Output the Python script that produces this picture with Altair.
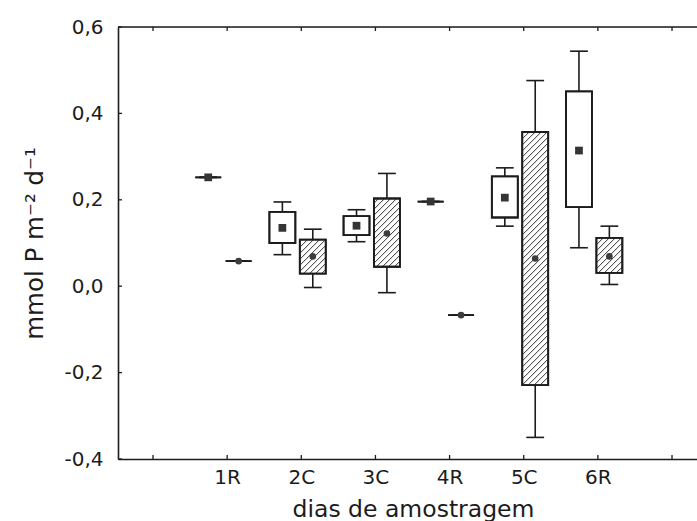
import math
import altair as alt
import pandas as pd

# ---------------- data ----------------
categories = ["1R", "2C", "3C", "4R", "5C", "6R"]
positions = [1, 2, 3, 4, 5, 6]

# open boxes (square marker)
open_mid = [0.252, 0.135, 0.140, 0.196, 0.205, 0.314]
open_q1 = [0.252, 0.100, 0.118, 0.196, 0.159, 0.183]
open_q3 = [0.252, 0.172, 0.162, 0.196, 0.254, 0.451]
open_lo = [0.252, 0.073, 0.103, 0.196, 0.139, 0.089]
open_hi = [0.252, 0.195, 0.177, 0.196, 0.274, 0.544]

# hatched boxes (circle marker)
hatch_mid = [0.058, 0.069, 0.122, -0.067, 0.064, 0.069]
hatch_q1 = [0.058, 0.029, 0.045, -0.067, -0.229, 0.031]
hatch_q3 = [0.058, 0.108, 0.203, -0.067, 0.357, 0.112]
hatch_lo = [0.058, -0.003, -0.015, -0.067, -0.350, 0.004]
hatch_hi = [0.058, 0.132, 0.261, -0.067, 0.476, 0.139]

x_tick_positions = [0, 1, 2, 3, 4, 5, 6, 7]
y_tick_values = [-0.4, -0.2, 0.0, 0.2, 0.4, 0.6]

# ---------------- layout ----------------
W, H = 579, 432
XMIN, XMAX = -0.472, 7.337
YMIN, YMAX = -0.4, 0.6
OFF_OPEN, OFF_HATCH = -0.255, 0.155
HALF_BOX, HALF_CAP = 0.175, 0.12
INK = "#1c1c1c"
FONT = "DejaVu Sans"

rows = []
for i, p in enumerate(positions):
    rows.append(dict(cat=categories[i], series="open", c=p + OFF_OPEN,
                     mid=open_mid[i], q1=open_q1[i], q3=open_q3[i],
                     lo=open_lo[i], hi=open_hi[i]))
    rows.append(dict(cat=categories[i], series="hatch", c=p + OFF_HATCH,
                     mid=hatch_mid[i], q1=hatch_q1[i], q3=hatch_q3[i],
                     lo=hatch_lo[i], hi=hatch_hi[i]))
df = pd.DataFrame(rows)
df["xl"] = df.c - HALF_BOX
df["xr"] = df.c + HALF_BOX
df["cl"] = df.c - HALF_CAP
df["cr"] = df.c + HALF_CAP

# hatch segments (45 degree stripes) clipped to each hatched box
kx = W / (XMAX - XMIN)
ky = H / (YMAX - YMIN)
step = 6.0
segs = []
for _, r in df[df.series == "hatch"].iterrows():
    ul, ur = r.xl * kx, r.xr * kx
    wb, wt = r.q1 * ky, r.q3 * ky
    if wt - wb < 1:
        continue
    k = math.ceil((wb - ur) / step) * step
    while k < wt - ul:
        us = max(ul, wb - k)
        ue = min(ur, wt - k)
        if ue - us > 0.4:
            segs.append(dict(x1=us / kx, y1=(us + k) / ky,
                             x2=ue / kx, y2=(ue + k) / ky))
        k += step
hatch_df = pd.DataFrame(segs)

lab_list = "['', " + ", ".join("'%s'" % c for c in categories) + ", '']"

XS = alt.Scale(domain=[XMIN, XMAX], nice=False, zero=False)
YS = alt.Scale(domain=[YMIN, YMAX], nice=False, zero=False)
XAX = alt.Axis(values=positions, labelExpr=lab_list + "[datum.value]",
               title="dias de amostragem", ticks=False, grid=False,
               domain=True, domainColor=INK, domainWidth=1.6,
               labelPadding=8, labelFontSize=20, labelFont=FONT, labelColor=INK,
               titleFontSize=23.5, titleFont=FONT, titleFontWeight="normal",
               titleColor=INK, titleX=295, titleY=57,
               titleBaseline="alphabetic", titleAlign="center")
YAX = alt.Axis(values=y_tick_values,
               labelExpr="replace(replace(format(datum.value, '.1f'), '.', ','), '\u2212', '-')",
               title="mmol P m\u207b\u00b2 d\u207b\u00b9", ticks=False, grid=False,
               domain=True, domainColor=INK, domainWidth=1.6,
               labelPadding=15, labelFontSize=20, labelFont=FONT, labelColor=INK,
               titleFontSize=24.5, titleFont=FONT, titleFontWeight="normal",
               titleColor=INK, titleX=-76, titleY=216, titleAngle=270,
               titleBaseline="alphabetic", titleAlign="center")


def X(f):
    return alt.X(f + ":Q", scale=XS, axis=XAX)


def Y(f):
    return alt.Y(f + ":Q", scale=YS, axis=YAX)


base = alt.Chart(df)

top_line = alt.Chart(pd.DataFrame({"a": [0]})).mark_rule(
    color=INK, strokeWidth=1.6).encode(
    x=alt.value(0), x2=alt.value(W), y=alt.value(0))

xt = pd.DataFrame({"p": x_tick_positions})
ticks_bottom = alt.Chart(xt).mark_rule(color=INK, strokeWidth=1.3).encode(
    x=X("p"), y=alt.value(H), y2=alt.value(H - 4))
ticks_top = alt.Chart(xt).mark_rule(color=INK, strokeWidth=1.3).encode(
    x=X("p"), y=alt.value(0), y2=alt.value(4))
yt = pd.DataFrame({"v": y_tick_values})
ticks_left = alt.Chart(yt).mark_rule(color=INK, strokeWidth=1.3).encode(
    y=Y("v"), x=alt.value(0), x2=alt.value(4))

whisk = base.mark_rule(color=INK, strokeWidth=1.6).encode(
    x=X("c"), y=Y("lo"), y2=alt.Y2("hi"))
cap_lo = base.mark_rule(color=INK, strokeWidth=1.6).encode(
    x=X("cl"), x2=alt.X2("cr"), y=Y("lo"))
cap_hi = base.mark_rule(color=INK, strokeWidth=1.6).encode(
    x=X("cl"), x2=alt.X2("cr"), y=Y("hi"))
boxes = base.mark_rect(fill="white", stroke=INK, strokeWidth=1.8).encode(
    x=X("xl"), x2=alt.X2("xr"), y=Y("q1"), y2=alt.Y2("q3"))
hatch = alt.Chart(hatch_df).mark_rule(color="#333333", strokeWidth=1.0).encode(
    x=X("x1"), x2=alt.X2("x2"), y=Y("y1"), y2=alt.Y2("y2"))
outline = base.mark_rect(fillOpacity=0, stroke=INK, strokeWidth=1.8).encode(
    x=X("xl"), x2=alt.X2("xr"), y=Y("q1"), y2=alt.Y2("q3"))
squares = base.transform_filter(alt.datum.series == "open").mark_square(
    size=60, color="#353535", opacity=1).encode(x=X("c"), y=Y("mid"))
circles = base.transform_filter(alt.datum.series == "hatch").mark_circle(
    size=44, color="#3c3c3c", opacity=1).encode(x=X("c"), y=Y("mid"))

chart = alt.layer(
    top_line, ticks_bottom, ticks_top, ticks_left,
    whisk, cap_lo, cap_hi, boxes, hatch, outline, squares, circles
).properties(
    width=W, height=H,
    autosize=alt.AutoSizeParams(type="none"),
    padding={"left": 118, "top": 27, "right": 0, "bottom": 62},
).configure_view(stroke=None).configure(background="white")

chart.save("out.html", embed_options={"renderer": "svg", "actions": False})
